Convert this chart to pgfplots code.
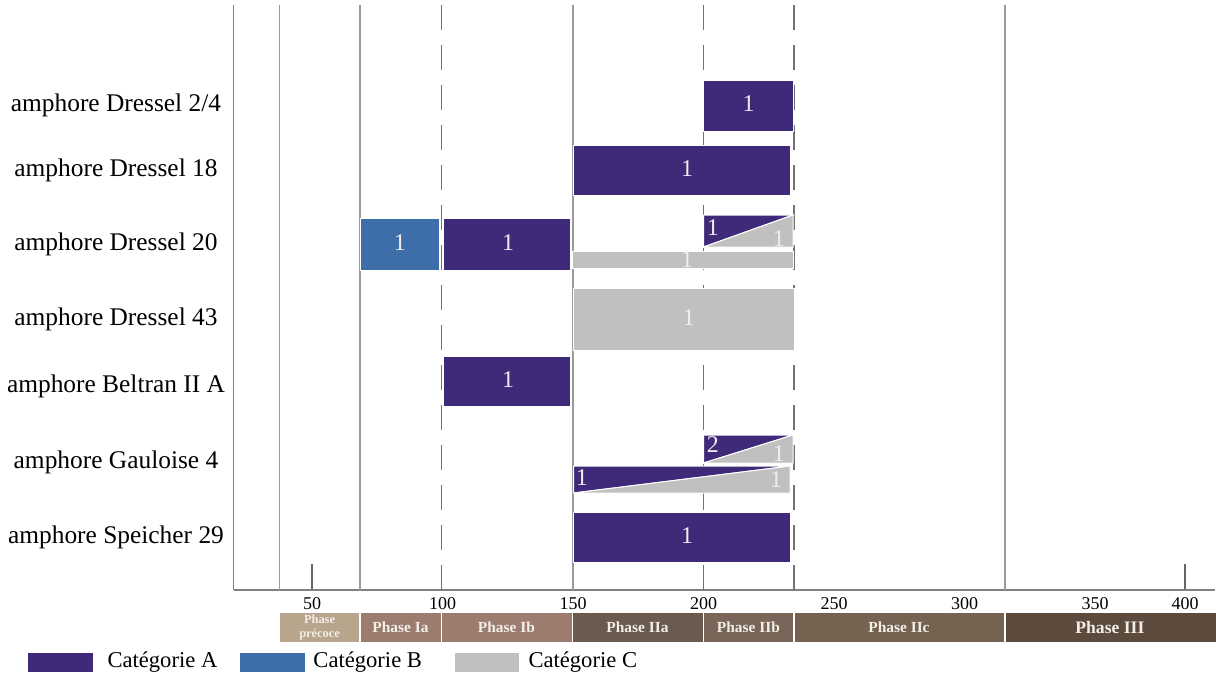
\documentclass[border=0pt]{standalone}
\usepackage{fontspec}
\setmainfont{Liberation Serif}
\usepackage{pgfplots}
\pgfplotsset{compat=1.18}
\definecolor{catA}{RGB}{62,42,120}
\definecolor{catB}{RGB}{62,110,170}
\definecolor{catC}{RGB}{192,192,192}
\definecolor{phP}{RGB}{183,165,140}
\definecolor{phIa}{RGB}{155,124,110}
\definecolor{phIb}{RGB}{155,124,110}
\definecolor{phIIa}{RGB}{107,90,78}
\definecolor{phIIb}{RGB}{122,102,88}
\definecolor{phIIc}{RGB}{118,98,80}
\definecolor{phIII}{RGB}{92,74,60}
\definecolor{vline}{RGB}{155,155,155}
\definecolor{dline}{RGB}{115,115,115}
\definecolor{lbl}{RGB}{238,238,238}
\definecolor{phtxt}{RGB}{242,238,232}
\begin{document}
\begin{tikzpicture}[
  bar lbl/.style={text=lbl, font=\fontsize{12}{14}\selectfont, inner sep=0pt},
  ph lbl/.style={text=phtxt, font=\bfseries\fontsize{7.7}{9}\selectfont, inner sep=0pt},
]
\begin{axis}[
  x=1.305pt, y=0.5pt,
  xmin=20, xmax=396, ymin=87, ymax=672,
  axis lines=left,
  axis line style={-, draw=black!50, line width=0.7pt},
  clip=false,
  tick align=inside,
  xtick={50,384.5},
  xticklabels={50,400},
  major tick length=13pt,
  xtick style={draw=black!60, line width=0.7pt},
  extra x ticks={100,150,200,250,300,350},
  extra x tick labels={100,150,200,250,300,350},
  extra x tick style={major tick length=0pt},
  xticklabel style={font=\fontsize{9}{10}\selectfont, /pgf/number format/assume math mode=true},
  ytick={572,507,433,358,291,215,140},
  yticklabels={amphore Dressel 2/4, amphore Dressel 18, amphore Dressel 20, amphore Dressel 43, amphore Beltran II A, amphore Gauloise 4, amphore Speicher 29},
  ytick style={draw=none},
  yticklabel style={anchor=center, xshift=-58.85pt, font=\fontsize{12.7}{15}\selectfont},
]
% vertical period lines
\addplot[vline, line width=0.6pt] coordinates {(37.4,87) (37.4,672)};
\addplot[vline, line width=0.6pt] coordinates {(68.4,87) (68.4,672)};
\addplot[vline, line width=0.6pt] coordinates {(150,87) (150,672)};
\addplot[vline, line width=0.6pt] coordinates {(315.5,87) (315.5,672)};
\addplot[dline, line width=0.6pt, dash pattern=on 12.5pt off 7.5pt] coordinates {(99.5,87) (99.5,672)};
\addplot[dline, line width=0.6pt, dash pattern=on 12.5pt off 7.5pt] coordinates {(200,87) (200,672)};
\addplot[dline, line width=0.6pt, dash pattern=on 12.5pt off 7.5pt] coordinates {(234.7,87) (234.7,672)};
% Dressel 2/4
\addplot[fill=catA, draw=white, line width=0.5pt] coordinates {(200,597) (234.3,597) (234.3,546) (200,546)} --cycle;
% Dressel 18
\addplot[fill=catA, draw=white, line width=0.5pt] coordinates {(150.2,532) (233.5,532) (233.5,482) (150.2,482)} --cycle;
% Dressel 20
\addplot[fill=catB, draw=white, line width=0.5pt] coordinates {(68.4,459) (99.0,459) (99.0,407) (68.4,407)} --cycle;
\addplot[fill=catA, draw=white, line width=0.5pt] coordinates {(100.2,459) (149.2,459) (149.2,407) (100.2,407)} --cycle;
\addplot[fill=catA, draw=white, line width=0.5pt] coordinates {(200,462) (234.3,462) (200,430)} --cycle;
\addplot[fill=catC, draw=white, line width=0.5pt] coordinates {(234.3,462) (234.3,430) (200,430)} --cycle;
\addplot[fill=catC, draw=white, line width=0.5pt] coordinates {(149.8,426) (234.3,426) (234.3,409) (149.8,409)} --cycle;
% Dressel 43
\addplot[fill=catC, draw=white, line width=0.5pt] coordinates {(150.2,389) (235,389) (235,327) (150.2,327)} --cycle;
% Beltran II A
\addplot[fill=catA, draw=white, line width=0.5pt] coordinates {(100.2,321) (149.2,321) (149.2,271) (100.2,271)} --cycle;
% Gauloise 4
\addplot[fill=catA, draw=white, line width=0.5pt] coordinates {(200,242) (234.3,242) (200,214)} --cycle;
\addplot[fill=catC, draw=white, line width=0.5pt] coordinates {(234.3,242) (234.3,214) (200,214)} --cycle;
\addplot[fill=catA, draw=white, line width=0.5pt] coordinates {(150.2,211) (233.2,211) (150.2,184)} --cycle;
\addplot[fill=catC, draw=white, line width=0.5pt] coordinates {(233.2,211) (233.2,184) (150.2,184)} --cycle;
% Speicher 29
\addplot[fill=catA, draw=white, line width=0.5pt] coordinates {(150.2,165) (233.5,165) (233.5,115) (150.2,115)} --cycle;
% counts
\node[bar lbl] at (axis cs:217.3,573) {1};
\node[bar lbl] at (axis cs:193.7,508) {1};
\node[bar lbl] at (axis cs:83.7,434) {1};
\node[bar lbl] at (axis cs:125.1,434) {1};
\node[bar lbl] at (axis cs:203.6,449) {1};
\node[bar lbl] at (axis cs:228.9,438) {1};
\node[bar lbl] at (axis cs:193.7,417) {1};
\node[bar lbl] at (axis cs:194.4,359) {1};
\node[bar lbl] at (axis cs:125.1,297) {1};
\node[bar lbl] at (axis cs:203.6,232) {2};
\node[bar lbl] at (axis cs:228.9,223) {1};
\node[bar lbl] at (axis cs:153.4,199) {1};
\node[bar lbl] at (axis cs:227.8,197) {1};
\node[bar lbl] at (axis cs:193.7,141) {1};
% phase band
\addplot[fill=phP, draw=white, line width=0.6pt] coordinates {(37.4,65) (68.4,65) (68.4,34) (37.4,34)} --cycle;
\addplot[fill=phIa, draw=white, line width=0.6pt] coordinates {(68.4,65) (99.5,65) (99.5,34) (68.4,34)} --cycle;
\addplot[fill=phIb, draw=white, line width=0.6pt] coordinates {(99.5,65) (149.8,65) (149.8,34) (99.5,34)} --cycle;
\addplot[fill=phIIa, draw=white, line width=0.6pt] coordinates {(149.8,65) (200,65) (200,34) (149.8,34)} --cycle;
\addplot[fill=phIIb, draw=white, line width=0.6pt] coordinates {(200,65) (234.7,65) (234.7,34) (200,34)} --cycle;
\addplot[fill=phIIc, draw=white, line width=0.6pt] coordinates {(234.7,65) (315.5,65) (315.5,34) (234.7,34)} --cycle;
\addplot[fill=phIII, draw=white, line width=0.6pt] coordinates {(315.5,65) (396.4,65) (396.4,34) (315.5,34)} --cycle;
\node[ph lbl, font=\bfseries\fontsize{6.2}{7}\selectfont, align=center] at (axis cs:52.9,50) {Phase\\précoce};
\node[ph lbl] at (axis cs:83.9,50) {Phase Ia};
\node[ph lbl] at (axis cs:124.5,50) {Phase Ib};
\node[ph lbl] at (axis cs:174.7,50) {Phase IIa};
\node[ph lbl] at (axis cs:217.2,50) {Phase IIb};
\node[ph lbl] at (axis cs:274.9,50) {Phase IIc};
\node[ph lbl, font=\bfseries\fontsize{8.8}{10}\selectfont] at (axis cs:355.7,50) {Phase III};
% legend
\fill[catA] (axis cs:-58.8,24) rectangle (axis cs:-33.9,5);
\node[anchor=west, inner sep=0pt, font=\fontsize{11.3}{13}\selectfont] at (axis cs:-28.5,15) {Catégorie A};
\fill[catB] (axis cs:22.4,24) rectangle (axis cs:47.3,5);
\node[anchor=west, inner sep=0pt, font=\fontsize{11.3}{13}\selectfont] at (axis cs:50.4,15) {Catégorie B};
\fill[catC] (axis cs:104.8,24) rectangle (axis cs:129.3,5);
\node[anchor=west, inner sep=0pt, font=\fontsize{11.3}{13}\selectfont] at (axis cs:132.8,15) {Catégorie C};
\coordinate (bb1) at (axis cs:-69.54,0);
\coordinate (bb2) at (axis cs:396.36,677);
\end{axis}
\pgfresetboundingbox
\path (bb1) rectangle (bb2);
\end{tikzpicture}
\end{document}
